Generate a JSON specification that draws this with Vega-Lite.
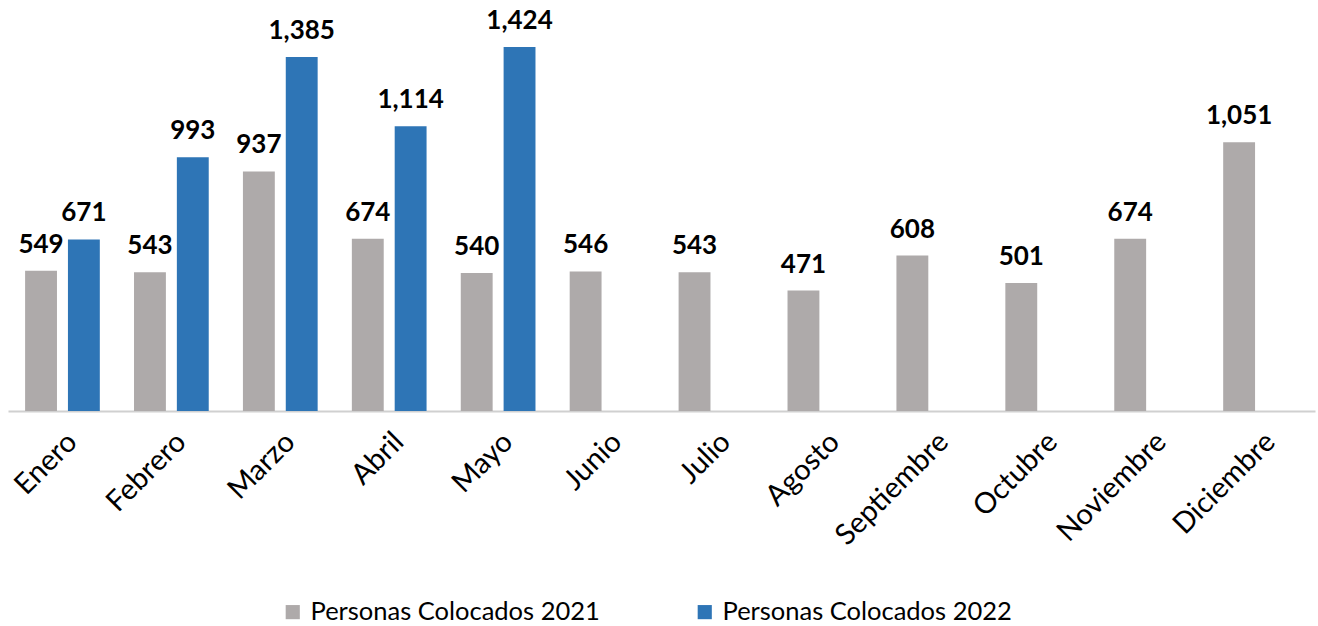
{
  "$schema": "https://vega.github.io/schema/vega-lite/v6.json",
  "width": 1307,
  "height": 409,
  "autosize": {"type": "none"},
  "padding": {"left": 8, "top": 2, "right": 3, "bottom": 215},
  "background": "white",
  "config": {"view": {"stroke": null}},
  "data": {
    "values": [
      {"mes": "Enero", "serie": "Personas Colocados 2021", "valor": 549},
      {"mes": "Enero", "serie": "Personas Colocados 2022", "valor": 671},
      {"mes": "Febrero", "serie": "Personas Colocados 2021", "valor": 543},
      {"mes": "Febrero", "serie": "Personas Colocados 2022", "valor": 993},
      {"mes": "Marzo", "serie": "Personas Colocados 2021", "valor": 937},
      {"mes": "Marzo", "serie": "Personas Colocados 2022", "valor": 1385},
      {"mes": "Abril", "serie": "Personas Colocados 2021", "valor": 674},
      {"mes": "Abril", "serie": "Personas Colocados 2022", "valor": 1114},
      {"mes": "Mayo", "serie": "Personas Colocados 2021", "valor": 540},
      {"mes": "Mayo", "serie": "Personas Colocados 2022", "valor": 1424},
      {"mes": "Junio", "serie": "Personas Colocados 2021", "valor": 546},
      {"mes": "Julio", "serie": "Personas Colocados 2021", "valor": 543},
      {"mes": "Agosto", "serie": "Personas Colocados 2021", "valor": 471},
      {"mes": "Septiembre", "serie": "Personas Colocados 2021", "valor": 608},
      {"mes": "Octubre", "serie": "Personas Colocados 2021", "valor": 501},
      {"mes": "Noviembre", "serie": "Personas Colocados 2021", "valor": 674},
      {"mes": "Diciembre", "serie": "Personas Colocados 2021", "valor": 1051}
    ]
  },
  "encoding": {
    "x": {
      "field": "mes",
      "type": "nominal",
      "sort": ["Enero", "Febrero", "Marzo", "Abril", "Mayo", "Junio", "Julio", "Agosto", "Septiembre", "Octubre", "Noviembre", "Diciembre"],
      "scale": {"paddingInner": 0.314, "paddingOuter": 0.157},
      "axis": {
        "title": null,
        "labelAngle": -45,
        "labelFont": "Lato",
        "labelFontSize": 29,
        "labelColor": "#000000",
        "labelPadding": 16,
        "labelLimit": 300,
        "ticks": false,
        "domainColor": "#D0D0D0",
        "domainWidth": 2
      }
    },
    "xOffset": {
      "field": "serie",
      "type": "nominal",
      "scale": {"paddingInner": 0.256, "paddingOuter": 0}
    },
    "y": {
      "field": "valor",
      "type": "quantitative",
      "scale": {"domain": [0, 1600]},
      "axis": null
    }
  },
  "layer": [
    {
      "mark": {"type": "bar"},
      "encoding": {
        "color": {
          "field": "serie",
          "type": "nominal",
          "scale": {"domain": ["Personas Colocados 2021", "Personas Colocados 2022"], "range": ["#AEAAAA", "#2E75B6"]},
          "legend": {
            "title": null,
            "orient": "none",
            "direction": "horizontal",
            "legendX": 272,
            "legendY": 597,
            "symbolType": "square",
            "symbolSize": 200,
            "symbolStrokeWidth": 0,
            "labelFont": "Lato",
            "labelFontSize": 25.5,
            "labelColor": "#000000",
            "labelLimit": 500,
            "columnPadding": 92,
            "labelOffset": 5
          }
        }
      }
    },
    {
      "mark": {"type": "text", "baseline": "alphabetic", "dy": -18, "font": "Lato", "fontSize": 26, "fontWeight": "bold", "color": "#000000"},
      "encoding": {
        "text": {"field": "valor", "type": "quantitative", "format": ",d"}
      }
    }
  ]
}
